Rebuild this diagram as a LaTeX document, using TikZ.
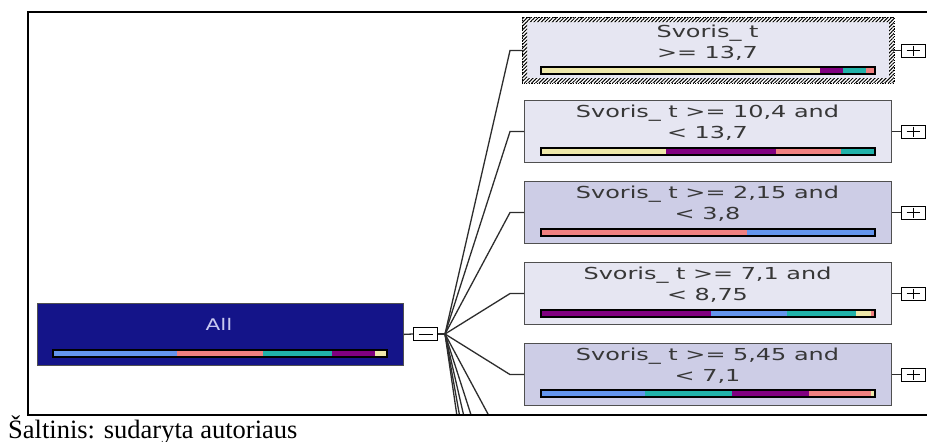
\documentclass[tikz,border=0pt]{standalone}
\usepackage{fontspec}
\usetikzlibrary{patterns.meta,calc}
\newfontfamily\leaffont[FakeStretch=1.45]{DejaVu Sans}
\newfontfamily\rootfont[FakeStretch=1.35]{DejaVu Sans}
\newfontfamily\capfont{Liberation Serif}

\definecolor{navy}{RGB}{20,20,137}
\definecolor{leaflight}{RGB}{230,230,242}
\definecolor{leafdark}{RGB}{205,205,230}
\definecolor{boxline}{RGB}{80,80,80}
\definecolor{txtgray}{RGB}{55,55,55}
\definecolor{alltxt}{RGB}{200,200,240}
\definecolor{cBlue}{RGB}{100,149,237}
\definecolor{cSalmon}{RGB}{240,128,128}
\definecolor{cTeal}{RGB}{32,178,170}
\definecolor{cPurple}{RGB}{128,0,128}
\definecolor{cYellow}{RGB}{238,232,170}
\definecolor{connline}{RGB}{45,45,45}

% distribution bar: left x, right x, top y, list colour/from/to (fractions)
\newcommand\distbar[4]{%
  \foreach \c/\a/\b in {#4}{%
    \fill[\c] ({#1+\a*(#2-#1)},#3) rectangle ({#1+\b*(#2-#1)},#3+7);}
  \draw[line width=1.1pt] (#1,#3) rectangle (#2,#3+7);}

\tikzset{
  leafbox/.style={draw=boxline, line width=1.1pt, rectangle, anchor=north west,
    minimum width=367pt, minimum height=62pt, inner sep=0pt},
  rootbox/.style={draw=boxline, line width=0.8pt, fill=navy, rectangle, anchor=north west,
    minimum width=366pt, minimum height=62pt, inner sep=0pt},
  leaftext/.style={anchor=base, inner sep=0pt, text=txtgray,
    font=\leaffont\fontsize{16.5}{20}\selectfont},
  expander/.style={draw=black, line width=1pt, fill=white, rectangle,
    minimum width=24pt, minimum height=13pt, inner sep=0pt},
  conn/.style={draw=connline, line width=1.3pt},
}

\begin{document}
\begin{tikzpicture}[x=1pt,y=-1pt]
\useasboundingbox (0,0) rectangle (927,442);
\fill[white] (0,0) rectangle (927,442);

% root node
\node[rootbox] (root) at (37,303) {};
\node[anchor=base, inner sep=0pt, text=alltxt,
  font=\rootfont\fontsize{16}{20}\selectfont] (rootlbl) at (219,330) {All};
\distbar{53}{387}{350}{cBlue/0/.371, cSalmon/.371/.629, cTeal/.629/.835, cPurple/.835/.964, cYellow/.964/1}
\node[expander] (minus) at (425.5,334) {};
\draw[line width=1pt] ($(minus.center)+(-7,0)$) -- ($(minus.center)+(7,0)$);

% leaf nodes
\node[leafbox, fill=leaflight] (b1) at (524,19) {};
\node[leafbox, fill=leaflight] (b2) at (524,100) {};
\node[leafbox, fill=leafdark]  (b3) at (524,181) {};
\node[leafbox, fill=leaflight] (b4) at (524,262) {};
\node[leafbox, fill=leafdark]  (b5) at (524,343) {};

% hatched frame of the selected node
\fill[white, even odd rule] (522,17) rectangle (894,83) (527,22) rectangle (889,78);
\fill[pattern={Lines[angle=45,distance=2.6pt,line width=1.0pt]}, pattern color=black, even odd rule]
  (522,17) rectangle (894,83) (527,22) rectangle (889,78);
\draw[black, line width=0.5pt, dash pattern=on 1.2pt off 1.4pt] (522,17) rectangle (894,83);

% labels
\node[leaftext] (t1a) at (707.5,37) {Svoris\_ t};
\node[leaftext] (t1b) at (707.5,58) {>= 13,7};
\node[leaftext] (t2a) at (707.5,117.5) {Svoris\_ t >= 10,4 and};
\node[leaftext] (t2b) at (707.5,138.5) {< 13,7};
\node[leaftext] (t3a) at (707.5,198.5) {Svoris\_ t >= 2,15 and};
\node[leaftext] (t3b) at (707.5,219.5) {< 3,8};
\node[leaftext] (t4a) at (707.5,279.5) {Svoris\_ t >= 7,1 and};
\node[leaftext] (t4b) at (707.5,300.5) {< 8,75};
\node[leaftext] (t5a) at (707.5,360.5) {Svoris\_ t >= 5,45 and};
\node[leaftext] (t5b) at (707.5,381.5) {< 7,1};

% distribution bars
\distbar{541}{875}{67}{cYellow/0/.835, cPurple/.835/.904, cTeal/.904/.973, cSalmon/.973/1}
\distbar{541}{875}{148}{cYellow/0/.375, cPurple/.375/.703, cSalmon/.703/.898, cTeal/.898/1}
\distbar{541}{875}{229}{cSalmon/0/.616, cBlue/.616/1}
\distbar{541}{875}{310}{cPurple/0/.508, cBlue/.508/.736, cTeal/.736/.943, cYellow/.943/.988, cSalmon/.988/1}
\distbar{541}{875}{390}{cBlue/0/.312, cTeal/.312/.571, cPurple/.571/.802, cSalmon/.802/.988, cYellow/.988/1}

% expanders
\foreach \i in {1,...,5}{
  \node[expander] (p\i) at ($(b\i.east)+(21,0)$) {};
  \draw[line width=1pt] ($(p\i.center)+(-6.5,0)$) -- ($(p\i.center)+(6.5,0)$)
                        ($(p\i.center)+(0,-5)$) -- ($(p\i.center)+(0,5)$);
  \draw[conn, line width=1pt] (b\i.east) -- (p\i.west);
}

% connectors
\coordinate (fan) at (445,334);
\coordinate (ex) at (510,0);
\draw[conn] (root.east) -- (minus.west);
\draw[conn] (minus.east) -- (fan);
\begin{scope}
  \clip (28,12) rectangle (927,414);
  \foreach \i in {1,...,5}{
    \draw[conn] (fan) -- (ex |- b\i.west) -- (b\i.west);
  }
  \coordinate (h6) at (510,455);
  \coordinate (h7) at (510,536);
  \coordinate (h8) at (510,617);
  \coordinate (h9) at (510,698);
  \coordinate (h10) at (510,779);
  \foreach \h in {h6,h7,h8,h9,h10}{
    \draw[conn] (fan) -- (\h);
  }
\end{scope}

% screen frame
\draw[line width=2.6pt] (927,12) -- (28,12) -- (28,415) -- (927,415);

% caption
\node[anchor=base west, inner sep=0pt, font=\capfont\fontsize{26.5}{30}\selectfont] (cap) at (8,438)
  {Šaltinis: sudaryta autoriaus};
\end{tikzpicture}
\end{document}
